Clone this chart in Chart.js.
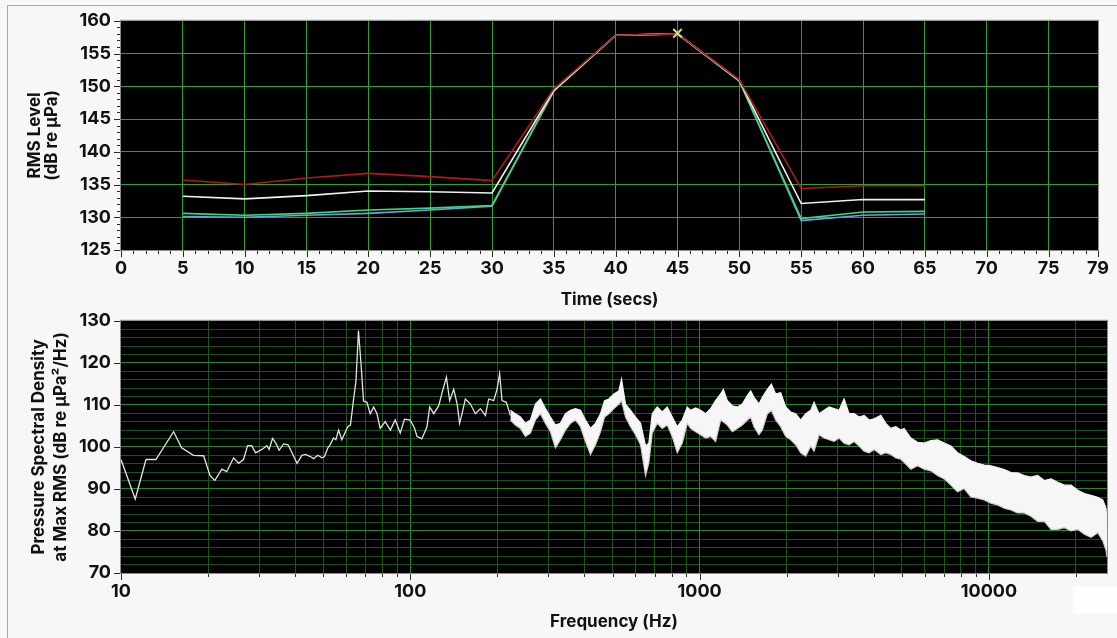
<!DOCTYPE html>
<html>
<head>
<meta charset="utf-8">
<script src="https://cdn.jsdelivr.net/npm/chart.js@4.4.0/dist/chart.umd.min.js"></script>
<style>
  html, body { margin: 0; padding: 0; background: #f7f7f7; }
  body { width: 1117px; height: 638px; position: relative; overflow: hidden; }
  #frame { position: absolute; left: 7px; top: 5px; right: 0; bottom: 0; border-top: 1px solid #a9a9a9; border-left: 1px solid #a9a9a9; }
  #rmsChart { position: absolute; left: 0; top: 0; }
  #psdChart { position: absolute; left: 0; top: 300px; }
  #cover { position: absolute; left: 1073px; top: 587px; width: 44px; height: 26px; background: #fefefe; }
</style>
</head>
<body>
<div id="frame"></div>
<canvas id="rmsChart" width="1117" height="312"></canvas>
<canvas id="psdChart" width="1117" height="338"></canvas>
<div id="cover"></div>
<script>
// RMS level per 5 s window, four channels
const timeSecs = [5, 10, 15, 20, 25, 30, 35, 40, 45, 50, 55, 60, 65];
const rmsRed   = [135.7, 135.0, 136.0, 136.7, 136.2, 135.6, 149.6, 157.8, 158.0, 151.0, 134.4, 134.8, 134.8];
const rmsWhite = [133.2, 132.8, 133.3, 134.0, 133.9, 133.7, 149.4, 157.8, 158.0, 150.9, 132.1, 132.7, 132.7];
const rmsGreen = [130.6, 130.3, 130.6, 131.1, 131.4, 131.8, 149.3, 157.8, 158.0, 150.8, 129.8, 130.8, 130.9];
const rmsBlue  = [130.1, 130.0, 130.3, 130.6, 131.1, 131.7, 149.3, 157.8, 158.0, 150.8, 129.5, 130.3, 130.5];
const peakTime = [45];
const peakLevel = [158.1];

// spectrum at max RMS: single trace below ~220 Hz, min/max band above
const psdLowHz = [10.0, 11.2, 12.2, 13.2, 15.2, 16.2, 17.8, 19.3, 20.3, 21.1, 22.3, 23.2, 24.5, 25.5, 26.5, 27.4,
  28.3, 29.2, 30.7, 31.9, 32.5, 33.4, 34.3, 35.2, 36.5, 37.8, 39.0, 40.6, 42.2, 43.5, 45.1, 46.3, 47.9, 49.5,
  50.5, 51.9, 52.8, 54.3, 55.3, 56.5, 58.0, 59.3, 60.8, 62.1, 63.7, 64.9, 66.2, 66.8, 67.6, 68.9, 70.8, 72.7,
  74.7, 76.7, 78.7, 81.9, 85.3, 88.7, 92.3, 95.5, 100, 103.5, 105.4, 109.6, 114.2, 116.7, 120.5, 125.4, 128.8,
  133.3, 136.8, 141.3, 145.2, 148.0, 151.0, 155.0, 161.3, 167.9, 174.7, 181.8, 186.6, 194.2, 199.4, 203.6,
  207.5, 214.7, 221.8];
const psdLowDb = [97.0, 87.6, 97.0, 97.0, 103.6, 99.8, 98.0, 97.9, 93.2, 92.0, 94.7, 94.1, 97.4, 96.1, 97.0, 100.3,
  100.3, 98.6, 99.4, 100.3, 99.4, 102.0, 100.9, 99.2, 100.7, 100.5, 98.6, 96.1, 98.0, 98.2, 97.7, 97.2, 98.0, 97.4,
  97.7, 99.8, 100.5, 102.1, 101.7, 104.0, 101.7, 103.2, 104.8, 105.2, 111.4, 115.7, 127.7, 124.2, 119.5, 110.9, 110.6, 107.9,
  109.5, 107.9, 104.4, 106.0, 104.0, 106.4, 103.3, 106.6, 106.4, 104.4, 102.5, 101.9, 104.8, 109.5, 107.9, 109.8, 112.9,
  116.6, 111.0, 113.7, 110.2, 105.6, 107.9, 111.4, 110.2, 107.9, 109.1, 107.5, 111.4, 111.0, 113.7, 117.4,
  111.0, 110.6, 107.5];

const psdBandHz = [221.8, 230.8, 240.3, 250.0, 260.2, 270.7, 281.7, 293.2, 305.1, 317.5, 330.4, 343.8, 357.8,
  372.3, 387.5, 403.2, 419.6, 436.6, 454.4, 469.2, 485.7, 505.4, 525.9, 537.2, 554.6, 577.2, 600.6, 625.1,
  650.5, 667.9, 686.0, 713.8, 742.8, 773.0, 804.4, 837.1, 871.0, 906.4,
  931, 969, 1008, 1049, 1092, 1136, 1182, 1208, 1247, 1298, 1350, 1405, 1462, 1502, 1542, 1604, 1648, 1715,
  1771, 1832, 1907, 1984, 2065, 2149, 2236, 2327, 2422, 2487, 2588, 2694, 2803, 2917, 3035, 3158, 3287, 3420,
  3559, 3704, 3855, 4011, 4231, 4401, 4580, 4766, 4960,
  5093, 5373, 5667, 5976, 6302, 6645, 7007, 7389, 7791, 8216, 8664, 9140, 9636, 10162, 10717, 11302, 11919,
  12568, 13255, 13978, 14741, 15546, 16394, 17289, 18232, 19227, 20277, 21380, 22547, 23777, 24743, 25408, 25600];
const psdBandHi = [108.7, 107.9, 107.1, 105.6, 106.4, 110.2, 111.4, 109.1, 107.1, 105.2, 105.6, 107.9, 108.7,
  109.1, 108.7, 106.4, 104.4, 105.6, 107.9, 111.0, 111.4, 112.6, 113.3, 116.1, 110.2, 108.7, 107.1, 105.6,
  100.2, 100.9, 107.9, 109.5, 108.3, 109.5, 107.1, 104.8, 106.4, 109.5,
  108.7, 109.3, 108.7, 107.9, 109.1, 111.0, 112.6, 113.7, 111.0, 109.8, 109.5, 110.2, 112.2, 113.3, 111.8, 110.2,
  111.8, 113.7, 114.9, 112.6, 112.9, 109.5, 108.3, 107.9, 106.4, 107.9, 108.7, 110.6, 107.9, 108.7, 109.5,
  109.1, 108.7, 111.4, 107.9, 107.9, 107.1, 107.5, 106.4, 106.7, 107.5, 105.6, 104.4, 104.8, 104.0,
  104.4, 102.1, 101.1, 100.9, 101.5, 101.7, 100.9, 100.2, 98.6, 97.7, 96.7, 96.1, 95.7, 95.5, 95.1, 94.6, 93.9,
  93.8, 93.2, 92.8, 93.2, 92.0, 92.4, 91.6, 90.9, 90.9, 89.7, 88.9, 88.5, 88.0, 87.4, 85.4, 81.5];
const psdBandLo = [106.4, 105.2, 104.4, 102.5, 103.3, 106.4, 107.9, 105.6, 103.6, 99.8, 101.7, 104.0, 105.6,
  106.4, 104.8, 101.3, 98.2, 100.5, 103.6, 107.1, 107.9, 109.1, 110.2, 111.0, 107.1, 104.8, 102.9, 100.5,
  93.2, 96.3, 103.3, 105.6, 104.4, 105.2, 102.5, 98.6, 100.9, 105.6,
  104.4, 103.6, 102.9, 102.1, 102.5, 101.3, 106.4, 106.0, 105.2, 103.6, 104.4, 105.2, 106.4, 107.1, 104.8, 102.9,
  104.0, 107.9, 108.7, 106.4, 104.8, 102.5, 101.7, 100.5, 98.6, 97.8, 100.2, 99.0, 102.9, 102.1, 101.7,
  101.3, 102.1, 100.9, 100.5, 101.3, 100.2, 99.0, 98.6, 99.4, 98.2, 98.6, 98.2, 97.4, 97.1,
  96.3, 94.7, 95.5, 94.7, 94.3, 93.2, 92.4, 90.9, 89.3, 90.1, 88.1, 87.8, 87.4, 86.6, 86.2, 85.4, 85.0,
  84.3, 84.3, 83.5, 82.3, 82.3, 80.4, 80.4, 80.8, 80.0, 80.4, 79.2, 78.5, 79.6, 77.7, 75.4, 73.8];

// log axis tick positions (labels only on decades)
const freqTicks = [10, 20, 30, 40, 50, 60, 70, 80, 90, 100, 200, 300, 400, 500, 600, 700, 800, 900,
  1000, 2000, 3000, 4000, 5000, 6000, 7000, 8000, 9000, 10000, 20000];
const freqLabels = [10, 100, 1000, 10000];

const FONT = "Inter, 'Open Sans', sans-serif";
const TICK_FONT = { family: FONT, size: 18, weight: 'bold' };
const TITLE_FONT = { family: FONT, size: 17, weight: 'bold' };
const CLEAR = 'rgba(0,0,0,0)';

const pts = (xs, ys) => xs.map((x, i) => ({ x, y: ys[i] }));

// black plot area, grey frame and hand-sized tick marks
const plotFrame = {
  id: 'plotFrame',
  beforeDraw(chart) {
    const { ctx, chartArea: a } = chart;
    ctx.save();
    ctx.fillStyle = '#000';
    ctx.fillRect(a.left, a.top, a.right - a.left, a.bottom - a.top);
    ctx.restore();
  },
  afterDraw(chart, args, opts) {
    const { ctx, chartArea: a, scales } = chart;
    ctx.save();
    ctx.lineWidth = 1;
    ctx.strokeStyle = '#8c8c8c';
    ctx.strokeRect(a.left - 0.5, a.top - 0.5, a.right - a.left + 1, a.bottom - a.top + 1);
    ctx.strokeStyle = '#2a2a2a';
    ctx.beginPath();
    scales.x.ticks.forEach(t => {
      const len = opts.xTick(t.value);
      if (!len) return;
      const px = Math.round(scales.x.getPixelForValue(t.value)) + 0.5;
      ctx.moveTo(px, a.bottom + 1);
      ctx.lineTo(px, a.bottom + 1 + len);
    });
    scales.y.ticks.forEach(t => {
      const len = opts.yTick(t.value);
      if (!len) return;
      const py = Math.round(scales.y.getPixelForValue(t.value)) + 0.5;
      ctx.moveTo(a.left - 1, py);
      ctx.lineTo(a.left - 1 - len, py);
    });
    ctx.stroke();
    ctx.restore();
  }
};

const lineSet = (label, ys, color) => ({
  label,
  data: pts(timeSecs, ys),
  borderColor: color,
  borderWidth: 1.6,
  pointRadius: 0,
  tension: 0
});

new Chart(document.getElementById('rmsChart'), {
  type: 'line',
  data: {
    datasets: [
      {
        label: 'Peak',
        data: pts(peakTime, peakLevel),
        showLine: false,
        pointStyle: 'crossRot',
        pointRadius: 6,
        borderColor: '#cfe07a',
        borderWidth: 2
      },
      lineSet('Ch 1', rmsRed, '#b01a1a'),
      lineSet('Ch 2', rmsWhite, '#f0f0f0'),
      lineSet('Ch 3', rmsGreen, '#3fd67c'),
      lineSet('Ch 4', rmsBlue, '#62a6dc')
    ]
  },
  options: {
    responsive: false,
    animation: false,
    layout: { padding: { left: 0, top: 17, right: 10, bottom: 0 } },
    plugins: {
      legend: { display: false },
      tooltip: { enabled: false },
      plotFrame: {
        xTick: v => (v % 5 === 0 || v === 79 ? 6 : 3),
        yTick: v => (v % 5 === 0 ? 6 : 3)
      }
    },
    scales: {
      x: {
        type: 'linear',
        min: 0,
        max: 79,
        border: { display: false },
        grid: {
          drawTicks: false,
          color: c => (c.tick && c.tick.value % 5 === 0 && c.tick.value > 0 ? '#2f9f2f' : CLEAR)
        },
        ticks: {
          stepSize: 1,
          autoSkip: false,
          maxRotation: 0,
          padding: 8,
          color: '#111',
          font: TICK_FONT,
          callback: v => (v % 5 === 0 || v === 79 ? String(v) : '')
        },
        title: { display: true, text: 'Time (secs)', color: '#111', font: TITLE_FONT, padding: { top: 0, bottom: 2 } },
        afterFit: s => { s.height = 62; }
      },
      y: {
        min: 125,
        max: 160,
        border: { display: false },
        grid: {
          drawTicks: false,
          color: c => (c.tick && c.tick.value % 5 === 0 && c.tick.value > 125 && c.tick.value < 160 ? '#2f9f2f' : CLEAR)
        },
        ticks: {
          stepSize: 1,
          autoSkip: false,
          padding: 10,
          color: '#111',
          font: TICK_FONT,
          callback: v => (v % 5 === 0 ? String(v) : '')
        },
        title: {
          display: true,
          text: ['RMS Level', '(dB re µPa)'],
          color: '#111',
          font: { ...TITLE_FONT, lineHeight: 0.97 },
          padding: { top: 27, bottom: 0 }
        },
        afterFit: s => { s.width = 121; }
      }
    }
  },
  plugins: [plotFrame]
});

new Chart(document.getElementById('psdChart'), {
  type: 'line',
  data: {
    datasets: [
      {
        label: 'PSD',
        data: pts(psdLowHz, psdLowDb),
        borderColor: '#e4e4e4',
        borderWidth: 1.3,
        pointRadius: 0,
        tension: 0
      },
      {
        label: 'PSD max',
        data: pts(psdBandHz, psdBandHi),
        borderColor: '#f4f4f4',
        borderWidth: 1.2,
        pointRadius: 0,
        tension: 0,
        fill: false
      },
      {
        label: 'PSD min',
        data: pts(psdBandHz, psdBandLo),
        borderColor: '#d0d0d0',
        borderWidth: 1.2,
        backgroundColor: '#f6f6f6',
        pointRadius: 0,
        tension: 0,
        fill: '-1'
      }
    ]
  },
  options: {
    responsive: false,
    animation: false,
    layout: { padding: { left: 0, top: 15, right: 10, bottom: 0 } },
    plugins: {
      legend: { display: false },
      tooltip: { enabled: false },
      filler: { propagate: false },
      plotFrame: {
        xTick: v => (freqLabels.includes(v) ? 6 : 3),
        yTick: v => (v % 10 === 0 ? 6 : 0)
      }
    },
    scales: {
      x: {
        type: 'logarithmic',
        min: 10,
        max: 25600,
        border: { display: false },
        afterBuildTicks: s => { s.ticks = freqTicks.map(v => ({ value: v })); },
        grid: {
          drawTicks: false,
          color: c => {
            if (!c.tick || c.tick.value === 10) return CLEAR;
            return freqLabels.includes(c.tick.value) ? '#2a862a' : '#1b531b';
          }
        },
        ticks: {
          autoSkip: false,
          maxRotation: 0,
          padding: 8,
          color: '#111',
          font: TICK_FONT,
          callback: v => (freqLabels.includes(v) ? String(v) : '')
        },
        title: { display: true, text: 'Frequency (Hz)', color: '#111', font: TITLE_FONT, padding: { top: 0, bottom: 6 } },
        afterFit: s => { s.height = 65; }
      },
      y: {
        min: 70,
        max: 130,
        border: { display: false },
        grid: {
          drawTicks: false,
          color: c => {
            if (!c.tick || c.tick.value === 70 || c.tick.value === 130) return CLEAR;
            return c.tick.value % 10 === 0 ? '#2a862a' : '#1b531b';
          }
        },
        ticks: {
          stepSize: 2,
          autoSkip: false,
          padding: 10,
          color: '#111',
          font: TICK_FONT,
          callback: v => (v % 10 === 0 ? String(v) : '')
        },
        title: {
          display: true,
          text: ['Pressure Spectral Density', 'at Max RMS (dB re µPa²/Hz)'],
          color: '#111',
          font: { ...TITLE_FONT, lineHeight: 1.3 },
          padding: { top: 28, bottom: 0 }
        },
        afterFit: s => { s.width = 121; }
      }
    }
  },
  plugins: [plotFrame]
});
</script>
</body>
</html>
